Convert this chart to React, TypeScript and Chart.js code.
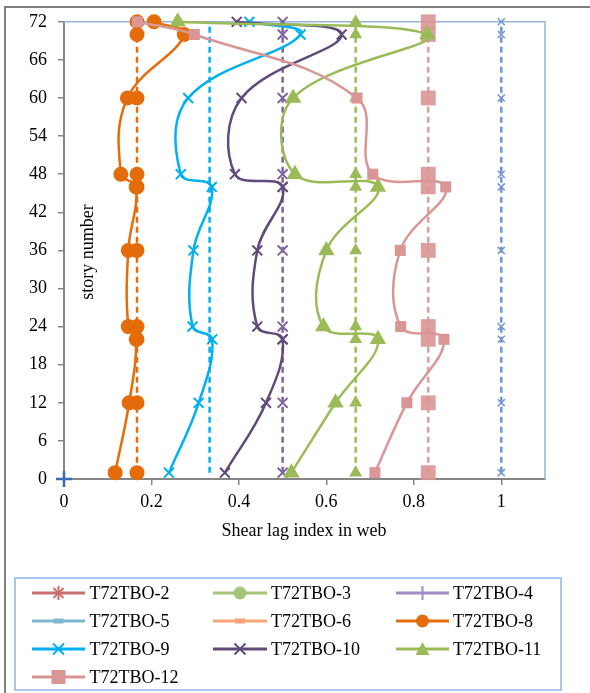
import React, { useEffect, useRef } from 'react';
import { Chart, registerables } from 'chart.js';
Chart.register(...registerables);

// ---------- data ----------
const stories = [1, 12, 22, 24, 36, 46, 48, 60, 70, 72];
const tbo8 = [0.117, 0.149, 0.165, 0.147, 0.147, 0.165, 0.130, 0.145, 0.275, 0.206];
const tbo9 = [0.240, 0.308, 0.339, 0.294, 0.296, 0.338, 0.267, 0.284, 0.541, 0.424];
const tbo10 = [0.368, 0.462, 0.500, 0.442, 0.442, 0.500, 0.391, 0.406, 0.635, 0.395];
const tbo11 = [0.520, 0.621, 0.718, 0.593, 0.600, 0.718, 0.528, 0.524, 0.831, 0.260];
const tbo12 = [0.711, 0.784, 0.869, 0.770, 0.769, 0.873, 0.706, 0.670, 0.298, 0.168];
// dashed reference lines
const ref8 = [0.167, 0.167, 0.167, 0.167, 0.167, 0.167, 0.167, 0.167, 0.167, 0.167];
const ref9 = [0.333, 0.333, 0.333, 0.333, 0.333, 0.333, 0.333, 0.333, 0.333, 0.333];
const ref10 = [0.5, 0.5, 0.5, 0.5, 0.5, 0.5, 0.5, 0.5, 0.5, 0.5];
const ref11 = [0.667, 0.667, 0.667, 0.667, 0.667, 0.667, 0.667, 0.667, 0.667, 0.667];
const ref12 = [0.833, 0.833, 0.833, 0.833, 0.833, 0.833, 0.833, 0.833, 0.833, 0.833];
const ref1 = [1, 1, 1, 1, 1, 1, 1, 1, 1, 1];
const originX = [0];
const originY = [0];

const xTicks = [0, 0.2, 0.4, 0.6, 0.8, 1];
const xTitle = 'Shear lag index in web';
const yTitle = 'story number';

const legendLabels = ['T72TBO-2', 'T72TBO-3', 'T72TBO-4', 'T72TBO-5', 'T72TBO-6', 'T72TBO-8', 'T72TBO-9', 'T72TBO-10', 'T72TBO-11', 'T72TBO-12'];
const legendColors = ['#C9706E', '#A5C279', '#A08CC2', '#7FB7CF', '#F8A474', '#E46C0A', '#00B0F0', '#604A7B', '#9BBB59', '#D99694'];
const legendMarkers = ['star', 'circle', 'tick', 'dash', 'dash', 'circle', 'x', 'x', 'triangle', 'square'];

const FONT = "'Liberation Serif', 'Times New Roman', serif";

const pts = (xs: number[], ys: number[]) => xs.map((x, i) => ({ x, y: ys[i] }));

function solid(label: string, xs: number[], color: string, style: string, radius: number, extra: any = {}) {
  return {
    label,
    data: pts(xs, stories),
    showLine: true,
    borderColor: color,
    backgroundColor: color,
    borderWidth: 2.5,
    tension: 0.4,
    pointStyle: style,
    pointRadius: radius,
    pointBorderWidth: 2,
    pointBorderColor: color,
    pointBackgroundColor: color,
    clip: false,
    ...extra,
  };
}

function dashed(label: string, xs: number[], color: string, style: any, radius: number, extra: any = {}) {
  return {
    label,
    data: pts(xs, stories),
    showLine: true,
    borderColor: color,
    backgroundColor: color,
    borderWidth: 2.5,
    borderDash: [6, 4],
    tension: 0,
    pointStyle: style,
    pointRadius: radius,
    pointBorderWidth: 2,
    pointBorderColor: color,
    pointBackgroundColor: color,
    clip: false,
    ...extra,
  };
}

const decorPlugin = {
  id: 'decor',
  beforeDatasetsDraw(chart: any) {
    const { ctx, chartArea: a } = chart;
    ctx.save();
    ctx.strokeStyle = '#95B3D7';
    ctx.lineWidth = 1.5;
    ctx.beginPath();
    ctx.moveTo(a.left, a.top);
    ctx.lineTo(a.right, a.top);
    ctx.lineTo(a.right, a.bottom);
    ctx.stroke();
    ctx.restore();
  },
  afterDraw(chart: any) {
    const { ctx } = chart;
    ctx.save();
    ctx.fillStyle = '#000';
    ctx.font = `18px ${FONT}`;
    ctx.textAlign = 'center';
    ctx.textBaseline = 'middle';
    ctx.fillText(xTitle, 304, 531);
    ctx.translate(88, 252);
    ctx.rotate(-Math.PI / 2);
    ctx.fillText(yTitle, 0, 0);
    ctx.restore();
  },
};

export default function App() {
  const ref = useRef<HTMLCanvasElement>(null);
  useEffect(() => {
    const list: any[] = [
      dashed('ref1', ref1, '#6F96D1', 'crossRot', 5, { pointBorderWidth: 1.5 }),
      {
        label: 'origin',
        data: pts(originX, originY),
        showLine: false,
        pointStyle: 'cross',
        pointRadius: 8,
        pointBorderWidth: 2.5,
        pointBorderColor: '#3A6DB5',
        borderColor: '#3A6DB5',
        clip: false,
      },
      dashed('ref8', ref8, '#E46C0A', 'circle', 6.5),
      dashed('ref9', ref9, '#00B0F0', 'circle', 0),
      dashed('ref10', ref10, '#8064A2', 'crossRot', 7),
      dashed('ref11', ref11, '#9BBB59', 'triangle', 5.5),
      dashed('ref12', ref12, 'rgba(217,150,148,0.9)', 'rect', 10.5, { pointBorderWidth: 0 }),
      solid('T72TBO-8', tbo8, '#E46C0A', 'circle', 6.5),
      solid('T72TBO-9', tbo9, '#00B0F0', 'crossRot', 7),
      solid('T72TBO-10', tbo10, '#604A7B', 'crossRot', 7),
      solid('T72TBO-11', tbo11, '#9BBB59', 'triangle', 7.5),
      solid('T72TBO-12', tbo12, '#D99694', 'rect', 7.8, { pointBorderWidth: 0 }),
    ];
    list.forEach((d, i) => (d.order = -i));

    const chart = new Chart(ref.current!, {
      type: 'scatter',
      data: { datasets: list },
      plugins: [decorPlugin],
      options: {
        animation: false,
        responsive: false,
        layout: { padding: { left: 0, right: 45, top: 21.5, bottom: 0 } },
        plugins: { legend: { display: false }, tooltip: { enabled: false } },
        scales: {
          x: {
            type: 'linear',
            min: 0,
            max: 1.1,
            afterBuildTicks: (s: any) => {
              s.ticks = xTicks.map((v) => ({ value: v }));
            },
            afterFit: (s: any) => {
              s.height = 81;
            },
            grid: { drawOnChartArea: false, drawTicks: true, tickLength: 6, color: '#868686', lineWidth: 1.5 },
            border: { color: '#868686', width: 2 },
            ticks: {
              autoSkip: false,
              maxRotation: 0,
              padding: 6,
              color: '#000',
              font: { family: FONT, size: 18 },
              callback: (v: any) => String(Number(Number(v).toFixed(1))),
            },
          },
          y: {
            type: 'linear',
            min: 0,
            max: 72,
            afterFit: (s: any) => {
              s.width = 64;
            },
            grid: { drawOnChartArea: false, drawTicks: true, tickLength: 6, color: '#868686', lineWidth: 1.5 },
            border: { color: '#868686', width: 2 },
            ticks: {
              stepSize: 6,
              autoSkip: false,
              padding: 11,
              color: '#000',
              font: { family: FONT, size: 18 },
            },
          },
        },
      } as any,
    });
    return () => chart.destroy();
  }, []);

  const colX1 = [32, 213, 396];
  const colX2 = [85, 267, 449];
  const textX = [89.5, 271, 453];
  const rowY = [593, 621, 649, 677];

  const marker = (m: string, cx: number, cy: number, c: string) => {
    switch (m) {
      case 'star':
        return (
          <g stroke={c} strokeWidth={2}>
            <line x1={cx - 5} y1={cy - 5} x2={cx + 5} y2={cy + 5} />
            <line x1={cx - 5} y1={cy + 5} x2={cx + 5} y2={cy - 5} />
            <line x1={cx} y1={cy - 7} x2={cx} y2={cy + 7} />
          </g>
        );
      case 'circle':
        return <circle cx={cx} cy={cy} r={6.5} fill={c} />;
      case 'tick':
        return <line x1={cx} y1={cy - 7} x2={cx} y2={cy + 7} stroke={c} strokeWidth={2} />;
      case 'dash':
        return <rect x={cx - 5} y={cy - 2.5} width={10} height={5} fill={c} />;
      case 'x':
        return (
          <g stroke={c} strokeWidth={2}>
            <line x1={cx - 5.5} y1={cy - 5.5} x2={cx + 5.5} y2={cy + 5.5} />
            <line x1={cx - 5.5} y1={cy + 5.5} x2={cx + 5.5} y2={cy - 5.5} />
          </g>
        );
      case 'triangle':
        return <polygon points={`${cx},${cy - 7} ${cx + 7},${cy + 6} ${cx - 7},${cy + 6}`} fill={c} />;
      case 'square':
        return <rect x={cx - 7} y={cy - 7} width={14} height={14} fill={c} />;
    }
    return null;
  };

  return (
    <div style={{ position: 'absolute', left: 0, top: 0, width: 590, height: 693, background: '#fff', overflow: 'hidden' }}>
      <div style={{ position: 'absolute', left: 4, top: 6, width: 620, height: 720, border: '2px solid #7F7F7F' }} />
      <canvas ref={ref} width={590} height={560} style={{ position: 'absolute', left: 0, top: 0 }} />
      <svg width={590} height={693} style={{ position: 'absolute', left: 0, top: 0 }}>
        <rect x={15} y={578} width={546} height={112} fill="none" stroke="#8EB4E3" strokeWidth={1.5} />
        {legendLabels.map((lab, i) => {
          const col = i % 3;
          const row = Math.floor(i / 3);
          const y = rowY[row];
          const c = legendColors[i];
          const mid = (colX1[col] + colX2[col]) / 2;
          return (
            <g key={lab}>
              <line x1={colX1[col]} y1={y} x2={colX2[col]} y2={y} stroke={c} strokeWidth={3} />
              {marker(legendMarkers[i], mid, y, c)}
              <text x={textX[col]} y={y} dominantBaseline="central" fontFamily={FONT} fontSize={18} fill="#000">
                {lab}
              </text>
            </g>
          );
        })}
      </svg>
    </div>
  );
}
